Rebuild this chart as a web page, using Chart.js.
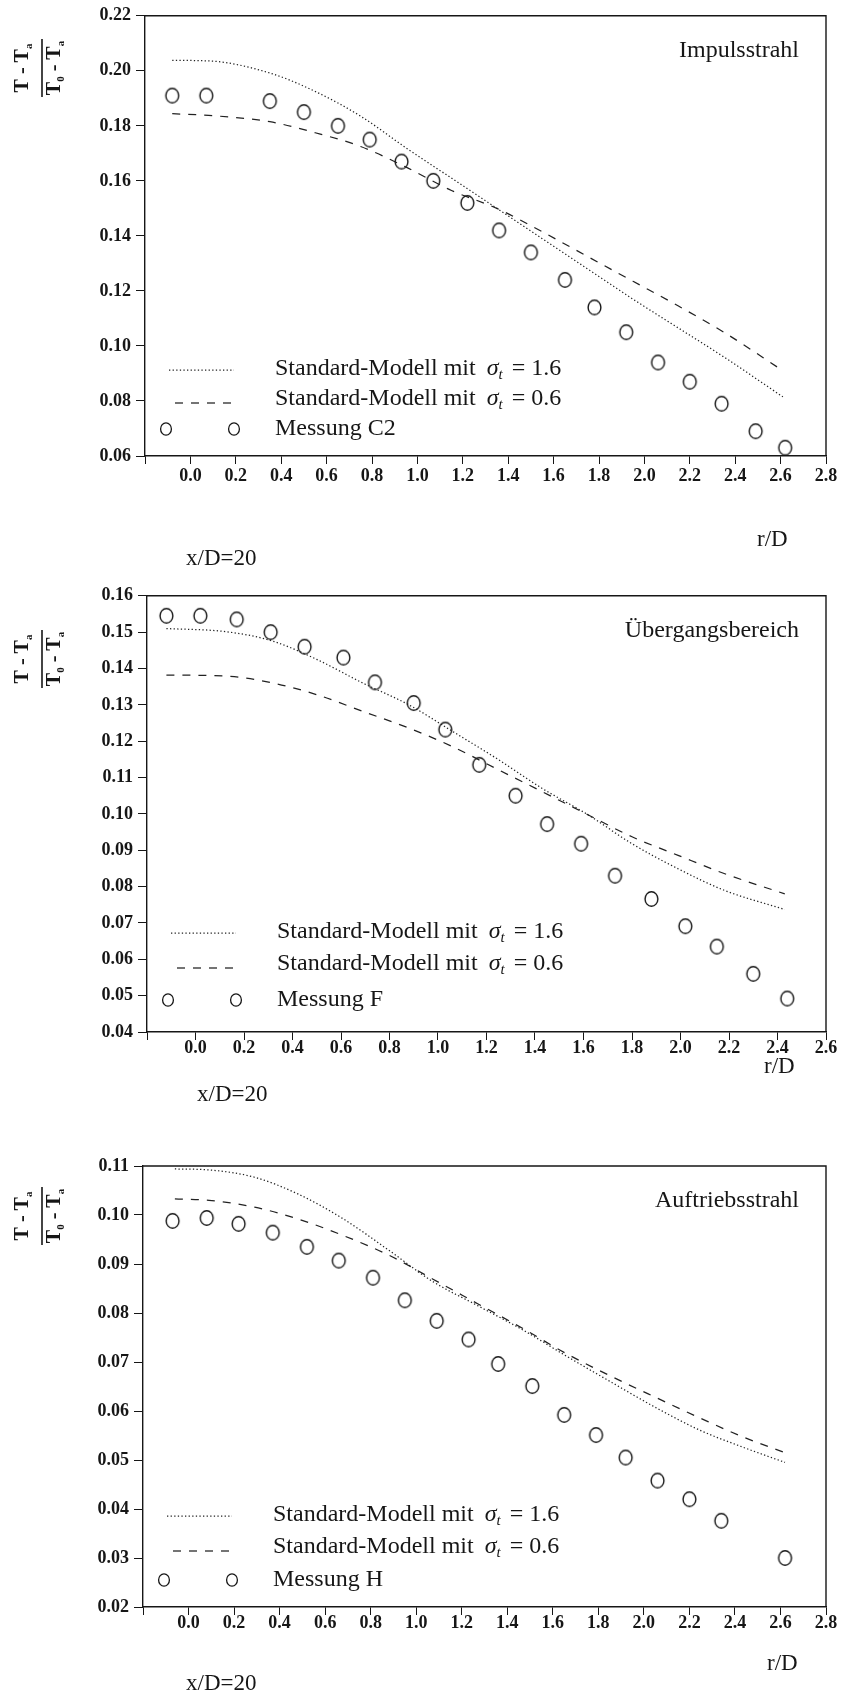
<!DOCTYPE html>
<html lang="de">
<head>
<meta charset="UTF-8">
<title>Temperaturprofile bei x/D=20</title>
<script src="https://cdn.jsdelivr.net/npm/chart.js"></script>
<style>
  body { margin: 0; background: #fff; }
  #page { position: relative; width: 843px; height: 1694px; background: #fff; }
  canvas { position: absolute; left: 0; }
</style>
</head>
<body>
<div id="page">
  <canvas id="c1" width="843" height="580" style="top:0px"></canvas>
  <canvas id="c2" width="843" height="545" style="top:580px"></canvas>
  <canvas id="c3" width="843" height="569" style="top:1125px"></canvas>
</div>
<script>
// --- Impulsstrahl ---
const rMessC2 = [-0.08, 0.07, 0.35, 0.50, 0.65, 0.79, 0.93, 1.07, 1.22, 1.36, 1.50, 1.65, 1.78, 1.92, 2.06, 2.20, 2.34, 2.49, 2.62];
const tMessC2 = [0.191, 0.191, 0.189, 0.185, 0.180, 0.175, 0.167, 0.160, 0.152, 0.142, 0.134, 0.124, 0.114, 0.105, 0.094, 0.087, 0.079, 0.069, 0.063];
const rModellImpuls = [-0.08, 0.08, 0.35, 0.55, 0.75, 0.95, 1.15, 1.35, 1.55, 1.75, 1.95, 2.15, 2.35, 2.61];
const sig16Impuls = [0.2038, 0.2036, 0.1992, 0.1925, 0.1835, 0.1720, 0.1610, 0.1500, 0.1390, 0.1280, 0.1170, 0.1065, 0.0960, 0.0815];
const sig06Impuls = [0.1844, 0.1838, 0.1815, 0.1775, 0.1725, 0.1650, 0.1565, 0.1500, 0.1415, 0.1325, 0.1235, 0.1145, 0.1050, 0.0910];
const yTicksImpuls = [0.06, 0.08, 0.10, 0.12, 0.14, 0.16, 0.18, 0.20, 0.22];

// --- Übergangsbereich ---
const rMessF = [-0.12, 0.02, 0.17, 0.31, 0.45, 0.61, 0.74, 0.90, 1.03, 1.17, 1.32, 1.45, 1.59, 1.73, 1.88, 2.02, 2.15, 2.30, 2.44];
const tMessF = [0.1545, 0.1545, 0.1535, 0.1500, 0.1460, 0.1430, 0.1362, 0.1305, 0.1232, 0.1135, 0.1050, 0.0972, 0.0918, 0.0830, 0.0766, 0.0691, 0.0635, 0.0560, 0.0492];
const rModellUebergang = [-0.12, 0.13, 0.32, 0.50, 0.69, 0.88, 1.06, 1.25, 1.43, 1.62, 1.80, 1.99, 2.18, 2.43];
const sig16Uebergang = [0.1510, 0.1501, 0.1475, 0.1425, 0.1360, 0.1300, 0.1227, 0.1149, 0.1070, 0.0997, 0.0918, 0.0849, 0.0790, 0.0737];
const sig06Uebergang = [0.1382, 0.1379, 0.1360, 0.1328, 0.1282, 0.1236, 0.1185, 0.1121, 0.1061, 0.0997, 0.0937, 0.0886, 0.0836, 0.0780];
const yTicksUebergang = [0.04, 0.05, 0.06, 0.07, 0.08, 0.09, 0.10, 0.11, 0.12, 0.13, 0.14, 0.15, 0.16];

// --- Auftriebsstrahl ---
const rMessH = [-0.07, 0.08, 0.22, 0.37, 0.52, 0.66, 0.81, 0.95, 1.09, 1.23, 1.36, 1.51, 1.65, 1.79, 1.92, 2.06, 2.20, 2.34, 2.62];
const tMessH = [0.0988, 0.0994, 0.0982, 0.0964, 0.0935, 0.0907, 0.0872, 0.0826, 0.0784, 0.0746, 0.0696, 0.0651, 0.0592, 0.0551, 0.0505, 0.0458, 0.0420, 0.0376, 0.0300];
const rModellAuftrieb = [-0.06, 0.09, 0.29, 0.48, 0.68, 0.88, 1.07, 1.27, 1.47, 1.66, 1.86, 2.06, 2.25, 2.43, 2.62];
const sig16Auftrieb = [0.1094, 0.1092, 0.1077, 0.1043, 0.0992, 0.0928, 0.0865, 0.0815, 0.0765, 0.0712, 0.0658, 0.0605, 0.0560, 0.0527, 0.0495];
const sig06Auftrieb = [0.1033, 0.1030, 0.1016, 0.0992, 0.0958, 0.0918, 0.0870, 0.0819, 0.0768, 0.0717, 0.0670, 0.0626, 0.0585, 0.0548, 0.0515];
const yTicksAuftrieb = [0.02, 0.03, 0.04, 0.05, 0.06, 0.07, 0.08, 0.09, 0.10, 0.11];

const xTicks28 = [-0.2, 0.0, 0.2, 0.4, 0.6, 0.8, 1.0, 1.2, 1.4, 1.6, 1.8, 2.0, 2.2, 2.4, 2.6, 2.8];
const xTicks26 = [-0.2, 0.0, 0.2, 0.4, 0.6, 0.8, 1.0, 1.2, 1.4, 1.6, 1.8, 2.0, 2.2, 2.4, 2.6];

const SERIF = '"Liberation Serif", "Times New Roman", serif';
const INK = '#161616';
Chart.defaults.font.family = SERIF;
Chart.defaults.color = INK;

function pts(xs, ys) {
  return xs.map((x, i) => ({ x: x, y: ys[i] }));
}

// open, slightly tall ring used as point marker
function ring(rx, ry, lw) {
  const c = document.createElement('canvas');
  const w = Math.ceil(2 * rx + lw + 2), h = Math.ceil(2 * ry + lw + 2);
  c.width = w;
  c.height = h;
  const g = c.getContext('2d');
  g.strokeStyle = INK;
  g.lineWidth = lw;
  g.beginPath();
  g.ellipse(w / 2, h / 2, rx, ry, 0, 0, Math.PI * 2);
  g.stroke();
  return c;
}
const marker = ring(6.4, 7.2, 1.4);

// draws a run of [text, isSubscript] pieces, centred on x
function runText(ctx, parts, x, y, font, subFont, subShift) {
  let w = 0;
  parts.forEach(p => { ctx.font = p[1] ? subFont : font; w += ctx.measureText(p[0]).width; });
  let cx = x - w / 2;
  parts.forEach(p => {
    ctx.font = p[1] ? subFont : font;
    ctx.fillText(p[0], cx, p[1] ? y + subShift : y);
    cx += ctx.measureText(p[0]).width;
  });
}

// (T - Ta) / (T0 - Ta), turned to read bottom to top
function drawFraction(ctx, cx, cy) {
  ctx.save();
  ctx.translate(cx, cy);
  ctx.rotate(-Math.PI / 2);
  ctx.fillStyle = INK;
  ctx.strokeStyle = INK;
  ctx.lineWidth = 1.6;
  ctx.beginPath();
  ctx.moveTo(-29, 0);
  ctx.lineTo(29, 0);
  ctx.stroke();
  ctx.textBaseline = 'alphabetic';
  const f = 'bold 20px ' + SERIF, fs = 'bold 11px ' + SERIF;
  runText(ctx, [['T - T', false], ['a', true]], 0, -14, f, fs, 4);
  runText(ctx, [['T', false], ['0', true], [' - T', false], ['a', true]], 0, 18, f, fs, 4);
  ctx.restore();
}

function sigmaLine(ctx, x, y, val) {
  ctx.font = '24px ' + SERIF;
  ctx.fillText('Standard-Modell mit', x, y);
  let cx = x + ctx.measureText('Standard-Modell mit').width + 11;
  ctx.font = 'italic 24px ' + SERIF;
  ctx.fillText('\u03C3', cx, y);
  cx += ctx.measureText('\u03C3').width;
  ctx.font = 'italic 15px ' + SERIF;
  ctx.fillText('t', cx, y + 6);
  cx += ctx.measureText('t').width + 9;
  ctx.font = '24px ' + SERIF;
  ctx.fillText('= ' + val, cx, y);
}

const deko = {
  id: 'deko',
  afterDraw(chart, args, o) {
    const ctx = chart.ctx, a = chart.chartArea;
    const ds = chart.data.datasets;
    ctx.save();
    // top and right frame
    ctx.strokeStyle = INK;
    ctx.lineWidth = 1.4;
    ctx.beginPath();
    ctx.moveTo(a.left, a.top);
    ctx.lineTo(a.right, a.top);
    ctx.lineTo(a.right, a.bottom);
    ctx.stroke();

    // legend inside the plot
    const rows = o.rows.map(d => a.bottom + d);
    const x0 = a.left + 24, x1 = a.left + 89, tx = a.left + 130;
    [ds[0], ds[1]].forEach((d, i) => {
      ctx.strokeStyle = d.borderColor;
      ctx.lineWidth = d.borderWidth;
      ctx.setLineDash(d.borderDash);
      const yy = rows[i] + (i === 1 ? 4 : 1);
      ctx.beginPath();
      ctx.moveTo(i === 1 ? x0 + 6 : x0, yy);
      ctx.lineTo(x1, yy);
      ctx.stroke();
    });
    ctx.setLineDash([]);
    ctx.strokeStyle = INK;
    ctx.lineWidth = 1.3;
    [a.left + 21, a.left + 89].forEach(cx => {
      ctx.beginPath();
      ctx.ellipse(cx, rows[2], 5.4, 6.2, 0, 0, Math.PI * 2);
      ctx.stroke();
    });
    ctx.fillStyle = INK;
    ctx.textBaseline = 'middle';
    ctx.textAlign = 'left';
    sigmaLine(ctx, tx, rows[0], '1.6');
    sigmaLine(ctx, tx, rows[1], '0.6');
    ctx.font = '24px ' + SERIF;
    ctx.fillText(o.mess, tx, rows[2]);

    // panel title
    ctx.textAlign = 'right';
    ctx.fillText(o.title, a.right - 27, a.top + 35);

    // captions below the axis
    ctx.textAlign = 'left';
    ctx.font = '23px ' + SERIF;
    ctx.fillText('x/D=20', o.xd[0], o.xd[1]);
    ctx.fillText('r/D', o.rd[0], o.rd[1]);
    ctx.restore();

    drawFraction(ctx, 42, o.frac);
  }
};

function panel(id, cfg) {
  const canvas = document.getElementById(id);
  const H = canvas.height;
  new Chart(canvas, {
    type: 'scatter',
    data: {
      datasets: [
        {
          label: 'Standard-Modell mit \u03C3t = 1.6',
          data: pts(cfg.rModell, cfg.sig16),
          showLine: true,
          borderColor: '#222',
          borderWidth: 1.25,
          borderDash: [1.3, 2.3],
          pointRadius: 0,
          tension: 0.4,
          cubicInterpolationMode: 'monotone'
        },
        {
          label: 'Standard-Modell mit \u03C3t = 0.6',
          data: pts(cfg.rModell, cfg.sig06),
          showLine: true,
          borderColor: '#222',
          borderWidth: 1.25,
          borderDash: [8, 8],
          pointRadius: 0,
          tension: 0.4,
          cubicInterpolationMode: 'monotone'
        },
        {
          label: cfg.mess,
          data: pts(cfg.rMess, cfg.tMess),
          showLine: false,
          pointStyle: marker,
          pointRadius: 7,
          borderColor: INK,
          backgroundColor: 'rgba(255,255,255,0)'
        }
      ]
    },
    options: {
      responsive: false,
      animation: false,
      events: [],
      layout: { padding: { top: cfg.top, right: 843 - cfg.right, left: 0, bottom: 0 } },
      plugins: {
        legend: { display: false },
        tooltip: { enabled: false },
        deko: { title: cfg.title, mess: cfg.mess, frac: cfg.frac, xd: cfg.xd, rd: cfg.rd, rows: cfg.rows }
      },
      scales: {
        x: {
          type: 'linear',
          min: -0.2,
          max: cfg.xTicks[cfg.xTicks.length - 1],
          afterBuildTicks: s => { s.ticks = cfg.xTicks.map(v => ({ value: v })); },
          afterFit: s => { s.height = H - cfg.bottom; },
          border: { display: true, color: INK, width: 1.4 },
          grid: { drawOnChartArea: false, drawTicks: true, tickLength: 8, color: INK, lineWidth: 1 },
          ticks: {
            autoSkip: false,
            maxRotation: 0,
            padding: cfg.xPad,
            font: { size: 18, weight: 'bold' },
            callback: v => (v < -0.1 ? '' : v.toFixed(1))
          }
        },
        y: {
          type: 'linear',
          min: cfg.yTicks[0],
          max: cfg.yTicks[cfg.yTicks.length - 1],
          afterBuildTicks: s => { s.ticks = cfg.yTicks.map(v => ({ value: v })); },
          afterFit: s => { s.width = cfg.left; },
          border: { display: true, color: INK, width: 1.4 },
          grid: { drawOnChartArea: false, drawTicks: true, tickLength: 9, color: INK, lineWidth: 1 },
          ticks: {
            autoSkip: false,
            padding: 5,
            font: { size: 18, weight: 'bold' },
            callback: v => v.toFixed(2)
          }
        }
      }
    },
    plugins: [deko]
  });
}

panel('c1', {
  rMess: rMessC2, tMess: tMessC2, rModell: rModellImpuls, sig16: sig16Impuls, sig06: sig06Impuls,
  yTicks: yTicksImpuls, xTicks: xTicks28, title: 'Impulsstrahl', mess: 'Messung C2',
  left: 145, right: 826, top: 15, bottom: 456, xPad: 2,
  rows: [-87, -57, -27],
  frac: 68, xd: [186, 559], rd: [757, 540]
});
panel('c2', {
  rMess: rMessF, tMess: tMessF, rModell: rModellUebergang, sig16: sig16Uebergang, sig06: sig06Uebergang,
  yTicks: yTicksUebergang, xTicks: xTicks26, title: '\u00DCbergangsbereich', mess: 'Messung F',
  left: 147, right: 826, top: 13, bottom: 452, xPad: -2,
  rows: [-100, -68, -32],
  frac: 79, xd: [197, 515], rd: [764, 487]
});
panel('c3', {
  rMess: rMessH, tMess: tMessH, rModell: rModellAuftrieb, sig16: sig16Auftrieb, sig06: sig06Auftrieb,
  yTicks: yTicksAuftrieb, xTicks: xTicks28, title: 'Auftriebsstrahl', mess: 'Messung H',
  left: 143, right: 826, top: 41, bottom: 482, xPad: -2,
  rows: [-92, -60, -27],
  frac: 91, xd: [186, 559], rd: [767, 539]
});
</script>
</body>
</html>
